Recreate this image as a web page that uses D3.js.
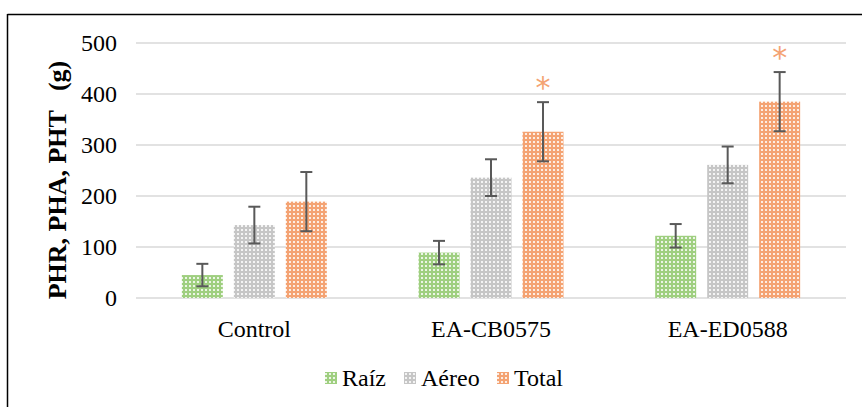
<!DOCTYPE html>
<html>
<head>
<meta charset="utf-8">
<script src="https://cdn.jsdelivr.net/npm/d3@7"></script>
<style>
  body { margin: 0; background: #fff; }
</style>
</head>
<body>
<svg id="chart" width="862" height="407" font-family="'Liberation Serif', 'Times New Roman', serif"></svg>
<script>
// data
var categories = ["Control", "EA-CB0575", "EA-ED0588"];
var series = ["Raíz", "Aéreo", "Total"];
var raiz = [45, 89, 122];
var aereo = [143, 236, 261];
var total = [189, 326, 385];
var raizErr = [22, 23, 23];
var aereoErr = [36, 36, 36];
var totalErr = [58, 58, 58];
var yTicks = [0, 100, 200, 300, 400, 500];
var significant = [false, true, true]; // asterisk above Total

var colors = { "Raíz": "#9fcf80", "Aéreo": "#c6c6c6", "Total": "#f4a373" };

var svg = d3.select("#chart");

// frame (top + left lines only visible)
svg.append("line").attr("x1", 7.5).attr("x2", 862).attr("y1", 14.5).attr("y2", 14.5)
  .attr("stroke", "#000").attr("stroke-width", 1.5);
svg.append("line").attr("x1", 7.5).attr("x2", 7.5).attr("y1", 14).attr("y2", 407)
  .attr("stroke", "#000").attr("stroke-width", 1.5);

// grid patterns for bars
var defs = svg.append("defs");
series.forEach(function (s, i) {
  var p = defs.append("pattern").attr("id", "pat" + i)
    .attr("patternUnits", "userSpaceOnUse").attr("width", 4).attr("height", 4);
  p.append("rect").attr("width", 4).attr("height", 4).attr("fill", colors[s]);
  p.append("rect").attr("x", 1).attr("y", 1).attr("width", 2).attr("height", 2).attr("fill", "#fff").attr("opacity", 0.8);
});

var y = d3.scaleLinear().domain([0, 500]).range([298, 43]);
var x0 = d3.scaleBand().domain(categories).range([136, 846]);
var x1 = d3.scaleBand().domain(series).range([0, x0.bandwidth()])
  .paddingInner(0.2115).paddingOuter(0.882);

// gridlines
svg.append("g").selectAll("line").data(yTicks).enter().append("line")
  .attr("x1", 136).attr("x2", 846)
  .attr("y1", function (d) { return y(d); }).attr("y2", function (d) { return y(d); })
  .attr("stroke", "#d9d9d9").attr("stroke-width", 1.5);

// y tick labels
svg.append("g").selectAll("text").data(yTicks).enter().append("text")
  .attr("x", 117).attr("y", function (d) { return y(d); })
  .attr("dy", "0.33em").attr("text-anchor", "end")
  .attr("font-size", 24).attr("fill", "#000")
  .text(function (d) { return d; });

// y title
svg.append("text")
  .attr("transform", "translate(66,180) rotate(-90)")
  .attr("text-anchor", "middle")
  .attr("font-size", 26).attr("font-weight", "bold")
  .attr("xml:space", "preserve")
  .text("PHR, PHA, PHT   (g)");

// bars
var vals = [raiz, aereo, total];
var errs = [raizErr, aereoErr, totalErr];
var rows = [];
categories.forEach(function (c, ci) {
  series.forEach(function (s, si) {
    rows.push({ cat: c, ser: s, si: si, v: vals[si][ci], e: errs[si][ci], star: si === 2 && significant[ci] });
  });
});

var g = svg.append("g");
g.selectAll("rect").data(rows).enter().append("rect")
  .attr("x", function (d) { return x0(d.cat) + x1(d.ser); })
  .attr("y", function (d) { return y(d.v); })
  .attr("width", x1.bandwidth())
  .attr("height", function (d) { return y(0) - y(d.v); })
  .attr("fill", function (d) { return "url(#pat" + d.si + ")"; });

// error bars
var eb = svg.append("g").attr("stroke", "#595959").attr("stroke-width", 2);
rows.forEach(function (d) {
  var cx = x0(d.cat) + x1(d.ser) + x1.bandwidth() / 2;
  eb.append("line").attr("x1", cx).attr("x2", cx).attr("y1", y(d.v + d.e)).attr("y2", y(d.v - d.e));
  eb.append("line").attr("x1", cx - 6).attr("x2", cx + 6).attr("y1", y(d.v + d.e)).attr("y2", y(d.v + d.e));
  eb.append("line").attr("x1", cx - 6).attr("x2", cx + 6).attr("y1", y(d.v - d.e)).attr("y2", y(d.v - d.e));
  if (d.star) {
    svg.append("text").attr("x", cx).attr("y", y(d.v + d.e) - 4)
      .attr("text-anchor", "middle").attr("font-size", 30).attr("fill", "#f4a373")
      .attr("font-family", "DejaVu Sans")
      .text("*");
  }
});

// category labels
svg.append("g").selectAll("text").data(categories).enter().append("text")
  .attr("x", function (d) { return x0(d) + x0.bandwidth() / 2; })
  .attr("y", 337).attr("text-anchor", "middle")
  .attr("font-size", 24).text(function (d) { return d; });

// legend
var legX = [325, 404, 497];
var leg = svg.append("g");
series.forEach(function (s, i) {
  leg.append("rect").attr("x", legX[i]).attr("y", 372).attr("width", 12).attr("height", 12)
    .attr("fill", "url(#pat" + i + ")");
  leg.append("text").attr("x", legX[i] + 17).attr("y", 386)
    .attr("font-size", 24).text(s);
});
</script>
</body>
</html>
